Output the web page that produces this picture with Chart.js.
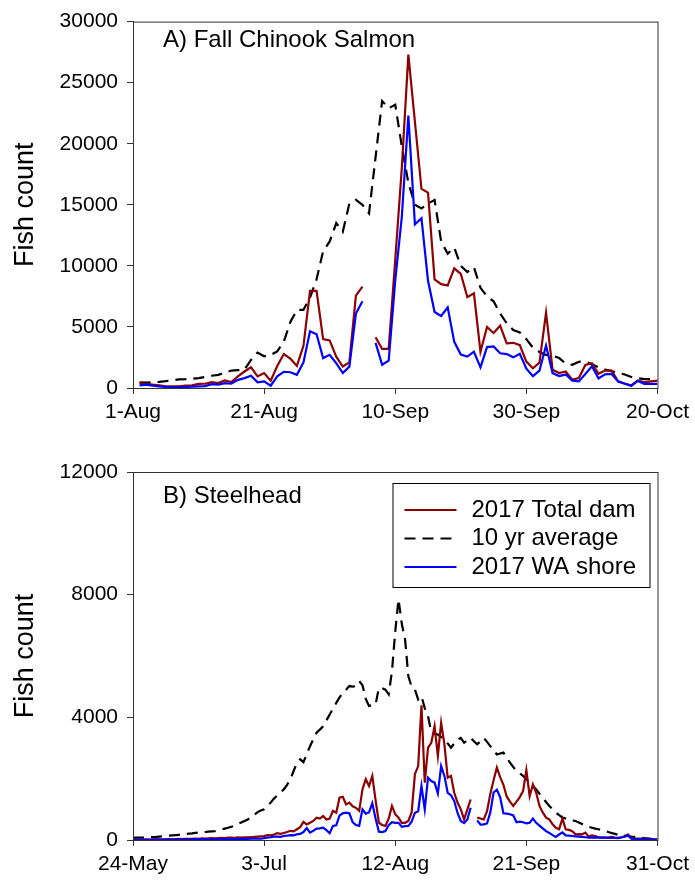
<!DOCTYPE html>
<html>
<head>
<meta charset="utf-8">
<script src="https://cdn.jsdelivr.net/npm/chart.js@4.4.1/dist/chart.umd.min.js"></script>
<style>
  body { margin: 0; background: #fff; }
  #wrap { position: relative; width: 695px; height: 886px; }
  canvas { position: absolute; left: 0; }
</style>
</head>
<body>
<div id="wrap">
  <canvas id="chinook" width="695" height="440" style="top:0"></canvas>
  <canvas id="steelhead" width="695" height="446" style="top:440px"></canvas>
</div>
<script>
// Panel A: daily counts, index 0 = 1-Aug
const salmonTickDays = [0, 20, 40, 60, 80];
const salmonTickLabels = ['1-Aug', '21-Aug', '10-Sep', '30-Sep', '20-Oct'];
const salmonCountTicks = [0, 5000, 10000, 15000, 20000, 25000, 30000];

const salmonTotal = [null,
  400, 350, 270, 220, 135, 135, 135, 190, 220, 330,
  350, 480, 400, 620, 490, 950, 1350, 1700, 950, 1220,
  600, 1800, 2780, 2400, 1810, 3450, 7950, 7950, 4000, 3900,
  2570, 1760, 2100, 7570, 8300, null, 4150, 3200, 3200, 10500,
  18000, 27300, 21800, 16300, 16000, 8900, 8500, 8400, 9800, 9340,
  7440, 7750, 2970, 5000, 4500, 5100, 3650, 3700, 3510, 2160,
  1620, 2080, 6170, 1490, 1220, 1350, 680, 810, 1890, 2030,
  1160, 1430, 1430, 540, 350, 220, 620, 460, 540, 600];

const salmonAvg = [null,
  460, 450, 470, 500, 560, 640, 700, 720, 760, 810,
  900, 1000, 1080, 1250, 1430, 1460, 1500, 2300, 2900, 2600,
  2700, 3000, 3800, 5400, 6400, 6400, 7400, 8900, 11200, 12000,
  13500, 12800, 15100, 15400, 15000, 14300, 18900, 23500, 22900, 23200,
  19800, 16800, 15000, 14700, 15100, 15400, 12000, 11000, 11500, 10000,
  9500, 9900, 8200, 7500, 7100, 6100, 5300, 4750, 4550, 4000,
  3300, 2950, 2700, 2650, 2450, 2000, 1900, 2150, 2160, 1950,
  1700, 1500, 1380, 1250, 1100, 900, 800, 720, 720, 620];

const salmonShore = [null,
  220, 270, 190, 135, 80, 55, 55, 80, 110, 135,
  150, 320, 270, 400, 350, 670, 810, 1000, 460, 540,
  190, 950, 1330, 1290, 1080, 2100, 4650, 4400, 2450, 2720,
  2030, 1220, 1750, 6100, 7110, null, 3700, 1900, 2240, 8800,
  14000, 22300, 13400, 13900, 8780, 6220, 5900, 6600, 3780, 2740,
  2570, 2970, 1690, 3350, 3400, 2840, 2780, 2510, 2800, 1580,
  970, 1430, 3480, 1220, 980, 1100, 600, 540, 1150, 1780,
  790, 1120, 1150, 520, 370, 170, 580, 340, 340, 340];

// Panel B: daily counts, index 0 = 24-May
const steelTickDays = [0, 40, 80, 120, 160];
const steelTickLabels = ['24-May', '3-Jul', '12-Aug', '21-Sep', '31-Oct'];
const steelCountTicks = [0, 4000, 8000, 12000];

const steelTotal = [
  10, 10, 15, 15, 20, 15, 20, 20, 25, 20,
  25, 30, 25, 30, 35, 30, 40, 35, 40, 45,
  40, 50, 45, 55, 60, 55, 65, 70, 60, 75,
  80, 70, 85, 80, 90, 85, 95, 100, 110, 120,
  130, 160, 150, 180, 220, 200, 230, 260, 300, 280,
  350, 420, 590, 510, 560, 620, 730, 700, 780, 670,
  700, 950, 890, 1380, 1410, 1160, 1220, 1100, 1050, 950,
  1650, 1980, 1760, 2090, 1300, 570, 490, 460, 700, 1110,
  840, 730, 560, 560, 620, 900, 2150, 2410, 4390, 1870,
  3010, 3170, 3710, 2740, 3820, 3120, 2030, 2090, 1540, 1220,
  1000, 670, 1000, 1320, null, 730, 700, 670, 940, 1500,
  1950, 2360, 2050, 1800, 1420, 1250, 1110, 1250, 1400, 1600,
  2280, 1430, 1810, 1540, 1110, 900, 730, 670, 510, 400,
  350, 700, 350, 330, 290, 185, 190, 185, 240, 110,
  150, 130, 90, 76, 80, 76, 100, 80, 70, 90,
  120, 185, 60, 43, 45, 43, 35, 30, 30, 25,
  22];

const steelAvg = [
  70, 75, 75, 80, 85, 90, 95, 100, 110, 120,
  130, 140, 150, 160, 170, 180, 195, 205, 215, 230,
  240, 250, 260, 270, 280, 290, 310, 340, 370, 400,
  430, 470, 520, 570, 620, 670, 730, 820, 910, 960,
  1000, 1100, 1220, 1350, 1450, 1550, 1650, 1800, 1980, 2250,
  2520, 2630, 2540, 2800, 3060, 3280, 3500, 3600, 3710, 3900,
  4090, 4280, 4470, 4650, 4800, 4900, 5020, 5000, 5020, 5180,
  5050, 4600, 4370, 4400, 4420, 4960, 4950, 4900, 4750, 5500,
  6800, 7850, 7050, 6540, 5340, 5000, 4900, 4580, 4690, 4300,
  4040, 3500, 3460, 3440, 3360, 3280, 3150, 3010, 3150, 3280,
  3330, 3170, 3250, 3330, 3220, 3120, 3220, 3330, 3200, 3060,
  2920, 2790, 2820, 2850, 2680, 2520, 2380, 2250, 2170, 2090,
  1980, 1870, 1760, 1650, 1510, 1380, 1240, 1110, 1000, 890,
  810, 730, 700, 670, 640, 620, 570, 520, 470, 430,
  400, 370, 350, 330, 300, 260, 230, 200, 170, 150,
  140, 130, 110, 100, 90, 76, 60, 50, 40, 30,
  22];

const steelShore = [
  5, 5, 5, 8, 8, 5, 8, 10, 10, 8,
  10, 12, 10, 12, 15, 12, 15, 15, 18, 20,
  18, 20, 22, 25, 25, 22, 28, 30, 28, 32,
  35, 30, 35, 38, 40, 36, 40, 42, 40, 42,
  60, 75, 90, 110, 110, 100, 130, 140, 160, 150,
  185, 200, 260, 390, 240, 300, 370, 380, 400, 320,
  220, 460, 480, 800, 870, 890, 870, 580, 490, 460,
  1000, 860, 900, 1200, 700, 270, 260, 290, 480, 580,
  560, 560, 430, 450, 460, 600, 890, 940, 1760, 1000,
  2030, 1920, 1870, 1520, 2410, 2090, 1540, 1460, 1270, 880,
  620, 550, 670, 1050, null, 640, 500, 510, 540, 900,
  1550, 1640, 1400, 870, 860, 840, 800, 580, 600, 580,
  540, 560, 700, 560, 470, 380, 290, 230, 160, 100,
  180, 250, 150, 140, 130, 120, 110, 100, 90, 76,
  80, 87, 80, 76, 76, 70, 72, 65, 60, 80,
  110, 150, 43, 35, 30, 22, 20, 18, 15, 15,
  12];

const FONT = 'Arial, "Liberation Sans", sans-serif';
const AXIS = '#333';
Chart.defaults.font.family = FONT;
Chart.defaults.color = '#000';

// box around the plot area
const frame = {
  id: 'frame',
  afterDraw(chart) {
    const { ctx, chartArea: a } = chart;
    ctx.save();
    ctx.strokeStyle = AXIS;
    ctx.lineWidth = 1;
    ctx.strokeRect(a.left + 0.5, a.top + 0.5, a.right - a.left, a.bottom - a.top);
    ctx.restore();
  }
};

// "A) ..." / "B) ..." heading inside the plot
const panelLabel = {
  id: 'panelLabel',
  afterDraw(chart, args, opts) {
    const { ctx, chartArea: a } = chart;
    ctx.save();
    ctx.font = '24px ' + FONT;
    ctx.fillStyle = '#000';
    ctx.textBaseline = 'middle';
    ctx.fillText(opts.text, a.left + opts.dx, a.top + opts.dy);
    ctx.restore();
  }
};

// boxed key in the upper right of panel B
const keyBox = {
  id: 'keyBox',
  afterDraw(chart) {
    const { ctx, chartArea: a } = chart;
    const x0 = a.right - 265, y0 = a.top + 11, w = 257, h = 104;
    ctx.save();
    ctx.fillStyle = '#fff';
    ctx.fillRect(x0, y0, w, h);
    ctx.strokeStyle = '#000';
    ctx.lineWidth = 1;
    ctx.strokeRect(x0 + 0.5, y0 + 0.5, w, h);
    ctx.font = '24px ' + FONT;
    ctx.textBaseline = 'middle';
    chart.data.datasets.forEach((ds, i) => {
      const y = y0 + 27 + i * 28.5;
      ctx.strokeStyle = ds.borderColor;
      ctx.lineWidth = ds.borderWidth;
      ctx.setLineDash(ds.borderDash || []);
      ctx.beginPath();
      ctx.moveTo(x0 + 12, y);
      ctx.lineTo(x0 + 64, y);
      ctx.stroke();
      ctx.fillStyle = '#000';
      ctx.fillText(ds.label, x0 + 79, y);
    });
    ctx.restore();
  }
};

function drawPanel(id, p) {
  const days = p.total.map((_, i) => i);
  return new Chart(document.getElementById(id), {
    type: 'line',
    data: {
      labels: days,
      datasets: [
        { label: '2017 Total dam', data: p.total, borderColor: '#8b0000', borderWidth: 2.2, order: 1 },
        { label: '10 yr average', data: p.avg, borderColor: '#000', borderWidth: 2.2, borderDash: [11, 7], order: 2 },
        { label: '2017 WA shore', data: p.shore, borderColor: '#0000ff', borderWidth: 2.2, order: 0 }
      ]
    },
    options: {
      responsive: false,
      animation: false,
      devicePixelRatio: 1,
      spanGaps: false,
      layout: { padding: { left: 0, right: 32, top: p.padTop, bottom: 0 } },
      elements: { point: { radius: 0 }, line: { tension: 0, fill: false, borderJoinStyle: 'miter' } },
      plugins: {
        legend: { display: false },
        tooltip: { enabled: false },
        panelLabel: p.heading
      },
      scales: {
        x: {
          type: 'linear',
          min: 0,
          max: days.length - 1,
          afterFit: s => { s.height = p.xHeight; },
          afterBuildTicks: s => { s.ticks = p.tickDays.map(v => ({ value: v })); },
          ticks: {
            callback: (v, i) => p.tickLabels[i],
            font: { size: 21 },
            padding: 6,
            maxRotation: 0,
            autoSkip: false
          },
          grid: { drawOnChartArea: false, tickLength: 6, color: AXIS },
          border: { color: AXIS }
        },
        y: {
          min: 0,
          max: p.countTicks[p.countTicks.length - 1],
          afterFit: s => { s.width = 133; },
          afterBuildTicks: s => { s.ticks = p.countTicks.map(v => ({ value: v })); },
          ticks: { callback: v => String(v), font: { size: 21 }, padding: 9 },
          grid: { drawOnChartArea: false, tickLength: 6, color: AXIS },
          border: { color: AXIS },
          title: { display: true, text: 'Fish count', font: { size: 27 }, padding: { top: 9 } }
        }
      }
    },
    plugins: p.withKey ? [frame, panelLabel, keyBox] : [frame, panelLabel]
  });
}

drawPanel('chinook', {
  total: salmonTotal, avg: salmonAvg, shore: salmonShore,
  tickDays: salmonTickDays, tickLabels: salmonTickLabels, countTicks: salmonCountTicks,
  padTop: 19, xHeight: 52,
  heading: { text: 'A) Fall Chinook Salmon', dx: 30, dy: 19 }
});

drawPanel('steelhead', {
  total: steelTotal, avg: steelAvg, shore: steelShore,
  tickDays: steelTickDays, tickLabels: steelTickLabels, countTicks: steelCountTicks,
  padTop: 32, xHeight: 46,
  heading: { text: 'B) Steelhead', dx: 30, dy: 24 },
  withKey: true
});
</script>
</body>
</html>
